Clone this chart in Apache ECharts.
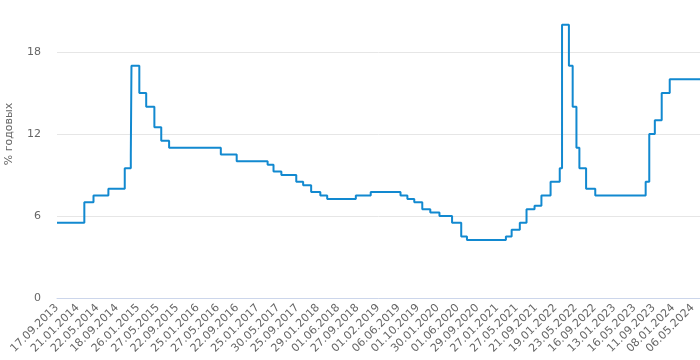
<!DOCTYPE html>
<html><head><meta charset="utf-8">
<script src="https://cdn.jsdelivr.net/npm/echarts@6/dist/echarts.min.js"></script>
<style>html,body{margin:0;padding:0;background:#fff}#c{width:700px;height:360px}</style>
</head><body><div id="c"></div>
<script>
// Key rate change dates and values (% годовых)
const changeDates = ['2013-09-17','2014-03-03','2014-04-28','2014-07-28','2014-11-05','2014-12-12','2014-12-16','2015-02-02','2015-03-16','2015-05-05','2015-06-16','2015-08-03','2016-06-14','2016-09-19','2017-03-27','2017-05-02','2017-06-19','2017-09-18','2017-10-30','2017-12-18','2018-02-12','2018-03-26','2018-09-17','2018-12-17','2019-06-17','2019-07-29','2019-09-09','2019-10-28','2019-12-16','2020-02-10','2020-04-27','2020-06-22','2020-07-27','2021-03-22','2021-04-26','2021-06-15','2021-07-26','2021-09-13','2021-10-25','2021-12-20','2022-02-14','2022-02-28','2022-04-11','2022-05-04','2022-05-27','2022-06-14','2022-07-25','2022-09-19','2023-07-24','2023-08-15','2023-09-18','2023-10-30','2023-12-18','2024-06-20'];
const rates = [5.5,7,7.5,8,9.5,10.5,17,15,14,12.5,11.5,11,10.5,10,9.75,9.25,9,8.5,8.25,7.75,7.5,7.25,7.5,7.75,7.5,7.25,7,6.5,6.25,6,5.5,4.5,4.25,4.5,5,5.5,6.5,6.75,7.5,8.5,9.5,20,17,14,11,9.5,8,7.5,8.5,12,13,15,16,16];
const tickLabels = ['17.09.2013','21.01.2014','22.05.2014','18.09.2014','26.01.2015','27.05.2015','22.09.2015','25.01.2016','27.05.2016','22.09.2016','25.01.2017','30.05.2017','25.09.2017','29.01.2018','01.06.2018','27.09.2018','01.02.2019','06.06.2019','01.10.2019','30.01.2020','01.06.2020','29.09.2020','27.01.2021','27.05.2021','21.09.2021','19.01.2022','23.05.2022','16.09.2022','13.01.2023','16.05.2023','11.09.2023','08.01.2024','06.05.2024'];
const yTicks = [0,6,12,18];

function toTs(d){ const p=d.split('-'); return Date.UTC(+p[0],+p[1]-1,+p[2]); }
function fromLabel(l){ const p=l.split('.'); return Date.UTC(+p[2],+p[1]-1,+p[0]); }
const tickTs = tickLabels.map(fromLabel);
const labelMap = {}; tickLabels.forEach((l,i)=>labelMap[tickTs[i]]=l);

const chart = echarts.init(document.getElementById('c'), null, {renderer:'canvas'});
chart.setOption({
  animation:false,
  grid:{left:57,right:0,top:-30,bottom:62,containLabel:false,outerBoundsMode:'none'},
  xAxis:{
    type:'value',
    min:toTs(changeDates[0]),
    max:toTs(changeDates[changeDates.length-1]),
    axisLine:{lineStyle:{color:'#ccd6eb'}},
    axisTick:{show:false},
    splitLine:{show:false},
    axisLabel:{
      customValues:tickTs,
      rotate:45, margin:8, color:'#666', fontSize:11,
      fontFamily:'DejaVu Sans',
      hideOverlap:false,
      formatter:function(v){ return labelMap[v] || ''; }
    }
  },
  yAxis:{
    type:'value', min:0, max:24, interval:6,
    name:'% годовых', nameLocation:'middle', nameGap:42,
    nameTextStyle:{color:'#666',fontSize:11,fontFamily:'DejaVu Sans'},
    axisLine:{show:false}, axisTick:{show:false},
    axisLabel:{color:'#666',fontSize:11,margin:16,fontFamily:'DejaVu Sans'},
    splitLine:{lineStyle:{color:'#e6e6e6'}}
  },
  series:[{
    type:'line', step:'end', showSymbol:false,
    data:changeDates.map((d,i)=>[toTs(d),rates[i]]),
    lineStyle:{color:'#1289d0',width:2},
    itemStyle:{color:'#1289d0'}
  }]
});
</script></body></html>
